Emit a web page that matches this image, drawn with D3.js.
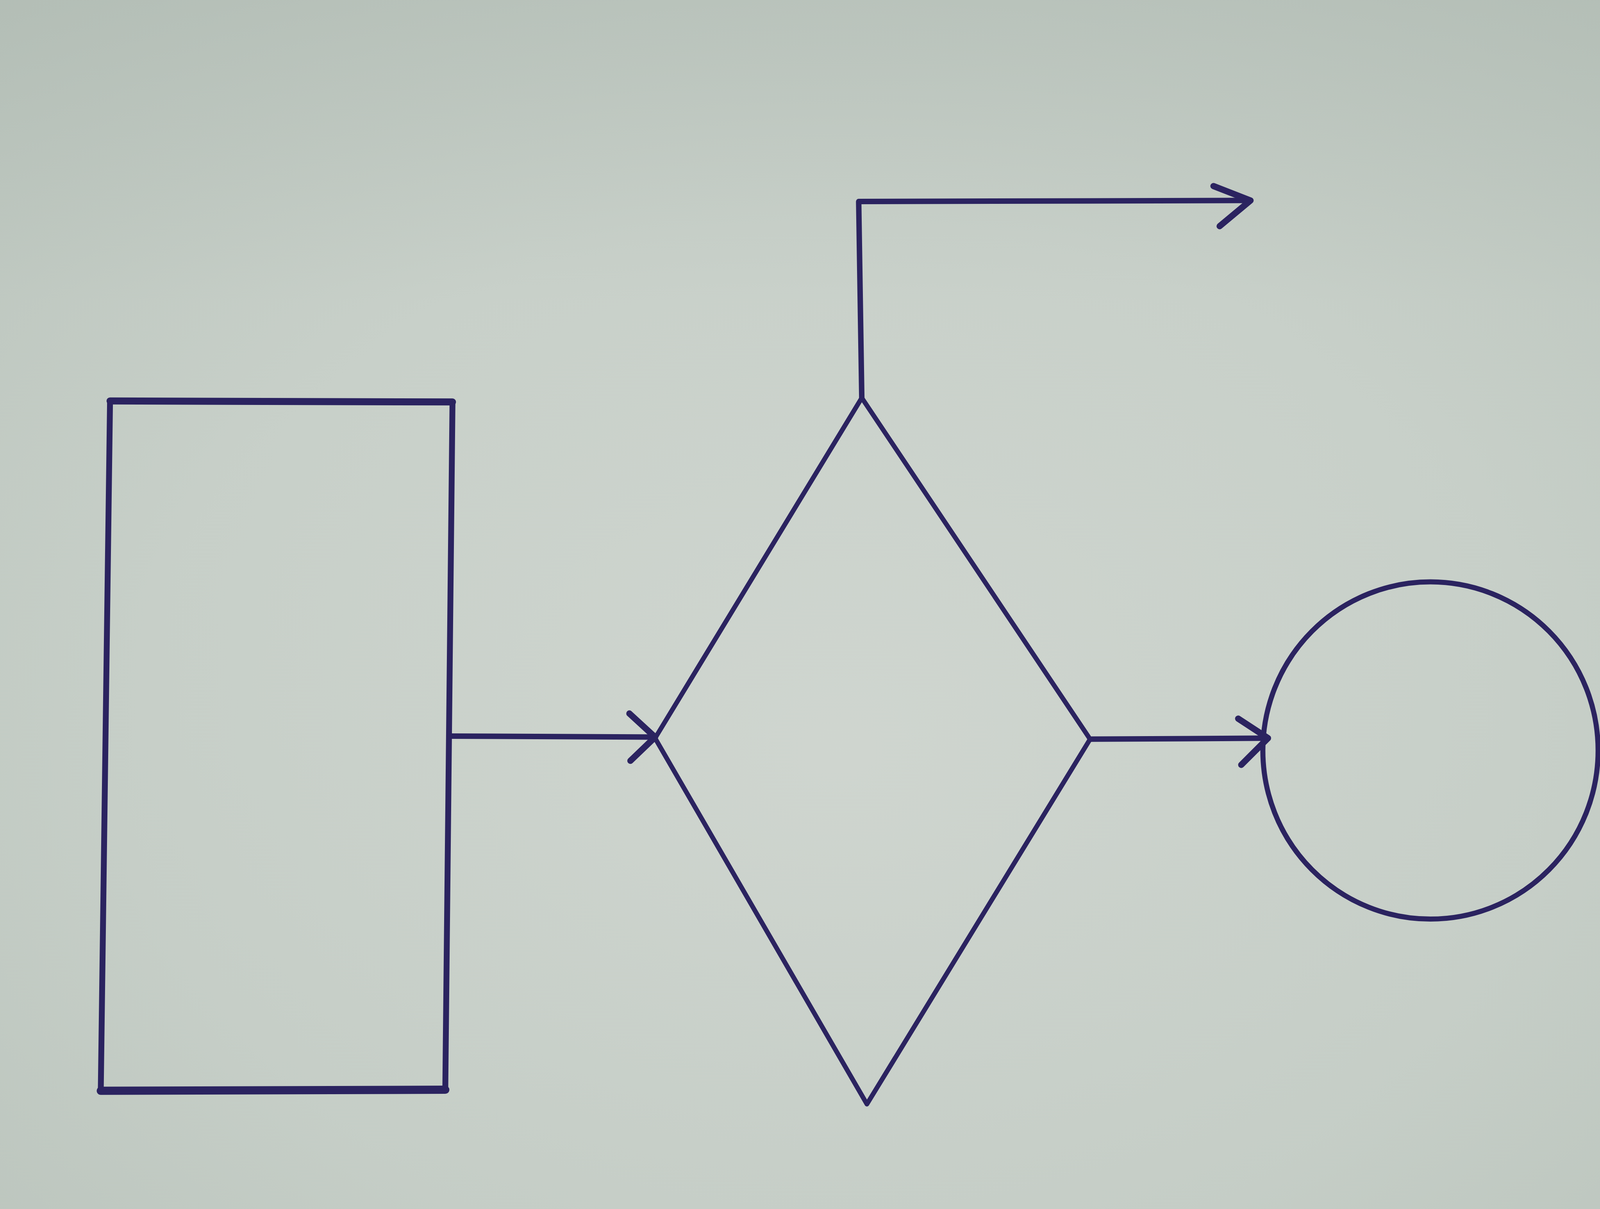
<!DOCTYPE html>
<html>
<head>
<meta charset="utf-8">
<script src="https://cdn.jsdelivr.net/npm/d3@7"></script>
<style>
  html, body { margin: 0; padding: 0; background: #c6cec7; overflow: hidden; }
</style>
</head>
<body>
<div id="chart"></div>
<script>
// sheet is measured in reference grid units (1568 x 1176)
const gridW = 1568;
const gridH = 1176;
const width = 4128;
const height = 3096;

// shapes of the flow sketch (grid units)
const processBox = [[107, 390], [440, 391], [433, 1060], [98, 1061]];
const decision = [[838, 387], [1060, 719], [843, 1074], [637, 718]];
const terminal = [{ cx: 1391, cy: 730, rx: 163, ry: 164 }];

// connector lines and their arrow heads
const connectors = [
  [[437, 716], [637, 717]],
  [[1060, 719], [1233, 718]],
  [[838, 387], [835, 196], [1216, 195]]
];
const arrowHeads = [
  [[612, 694], [637, 717], [613, 740]],
  [[1204, 699], [1233, 718], [1207, 744]],
  [[1180, 181], [1216, 195], [1186, 220]]
];

const ink = "#2b2360";

let xScale = d3.scaleLinear().domain([0, gridW]).range([0, width]);
let yScale = d3.scaleLinear().domain([0, gridH]).range([0, height]);

let svg = d3.select("#chart").append("svg")
  .attr("width", width)
  .attr("height", height)
  .style("display", "block");

let defs = svg.append("defs");
let paper = defs.append("radialGradient")
  .attr("id", "paper")
  .attr("cx", "52%").attr("cy", "62%").attr("r", "80%");
paper.append("stop").attr("offset", "0%").attr("stop-color", "#d1d7d1");
paper.append("stop").attr("offset", "55%").attr("stop-color", "#c8d0c9");
paper.append("stop").attr("offset", "100%").attr("stop-color", "#b9c3bb");

let shade = defs.append("linearGradient")
  .attr("id", "shade").attr("x1", 0).attr("y1", 0).attr("x2", 0).attr("y2", 1);
shade.append("stop").attr("offset", "0%").attr("stop-color", "#a3afa7").attr("stop-opacity", 0.25);
shade.append("stop").attr("offset", "25%").attr("stop-color", "#a3afa7").attr("stop-opacity", 0);
shade.append("stop").attr("offset", "100%").attr("stop-color", "#a3afa7").attr("stop-opacity", 0.08);

svg.append("rect").attr("width", width).attr("height", height).attr("fill", "url(#paper)");
svg.append("rect").attr("width", width).attr("height", height).attr("fill", "url(#shade)");

let line = d3.line()
  .x(function (d) { return xScale(d[0]); })
  .y(function (d) { return yScale(d[1]); });

let graph = svg.append("g")
  .attr("fill", "none")
  .attr("stroke", ink)
  .attr("stroke-linecap", "round")
  .attr("stroke-linejoin", "round");

graph.append("path")
  .attr("d", line(processBox) + "Z")
  .attr("stroke-width", 15);

// heavier top and bottom strokes on the box
graph.append("path")
  .attr("d", line([processBox[0], processBox[1]]))
  .attr("stroke-width", 18);
graph.append("path")
  .attr("d", line([processBox[3], processBox[2]]))
  .attr("stroke-width", 21);

graph.append("path")
  .attr("d", line(decision) + "Z")
  .attr("stroke-width", 12);

graph.selectAll("ellipse.term")
  .data(terminal)
  .join("ellipse")
  .attr("class", "term")
  .attr("cx", function (d) { return xScale(d.cx); })
  .attr("cy", function (d) { return yScale(d.cy); })
  .attr("rx", function (d) { return xScale(d.rx); })
  .attr("ry", function (d) { return yScale(d.ry); })
  .attr("stroke-width", 13);

graph.selectAll("path.conn")
  .data(connectors)
  .join("path")
  .attr("class", "conn")
  .attr("d", line)
  .attr("stroke-width", 14);

graph.selectAll("path.head")
  .data(arrowHeads)
  .join("path")
  .attr("class", "head")
  .attr("d", line)
  .attr("stroke-width", 16);
</script>
</body>
</html>
